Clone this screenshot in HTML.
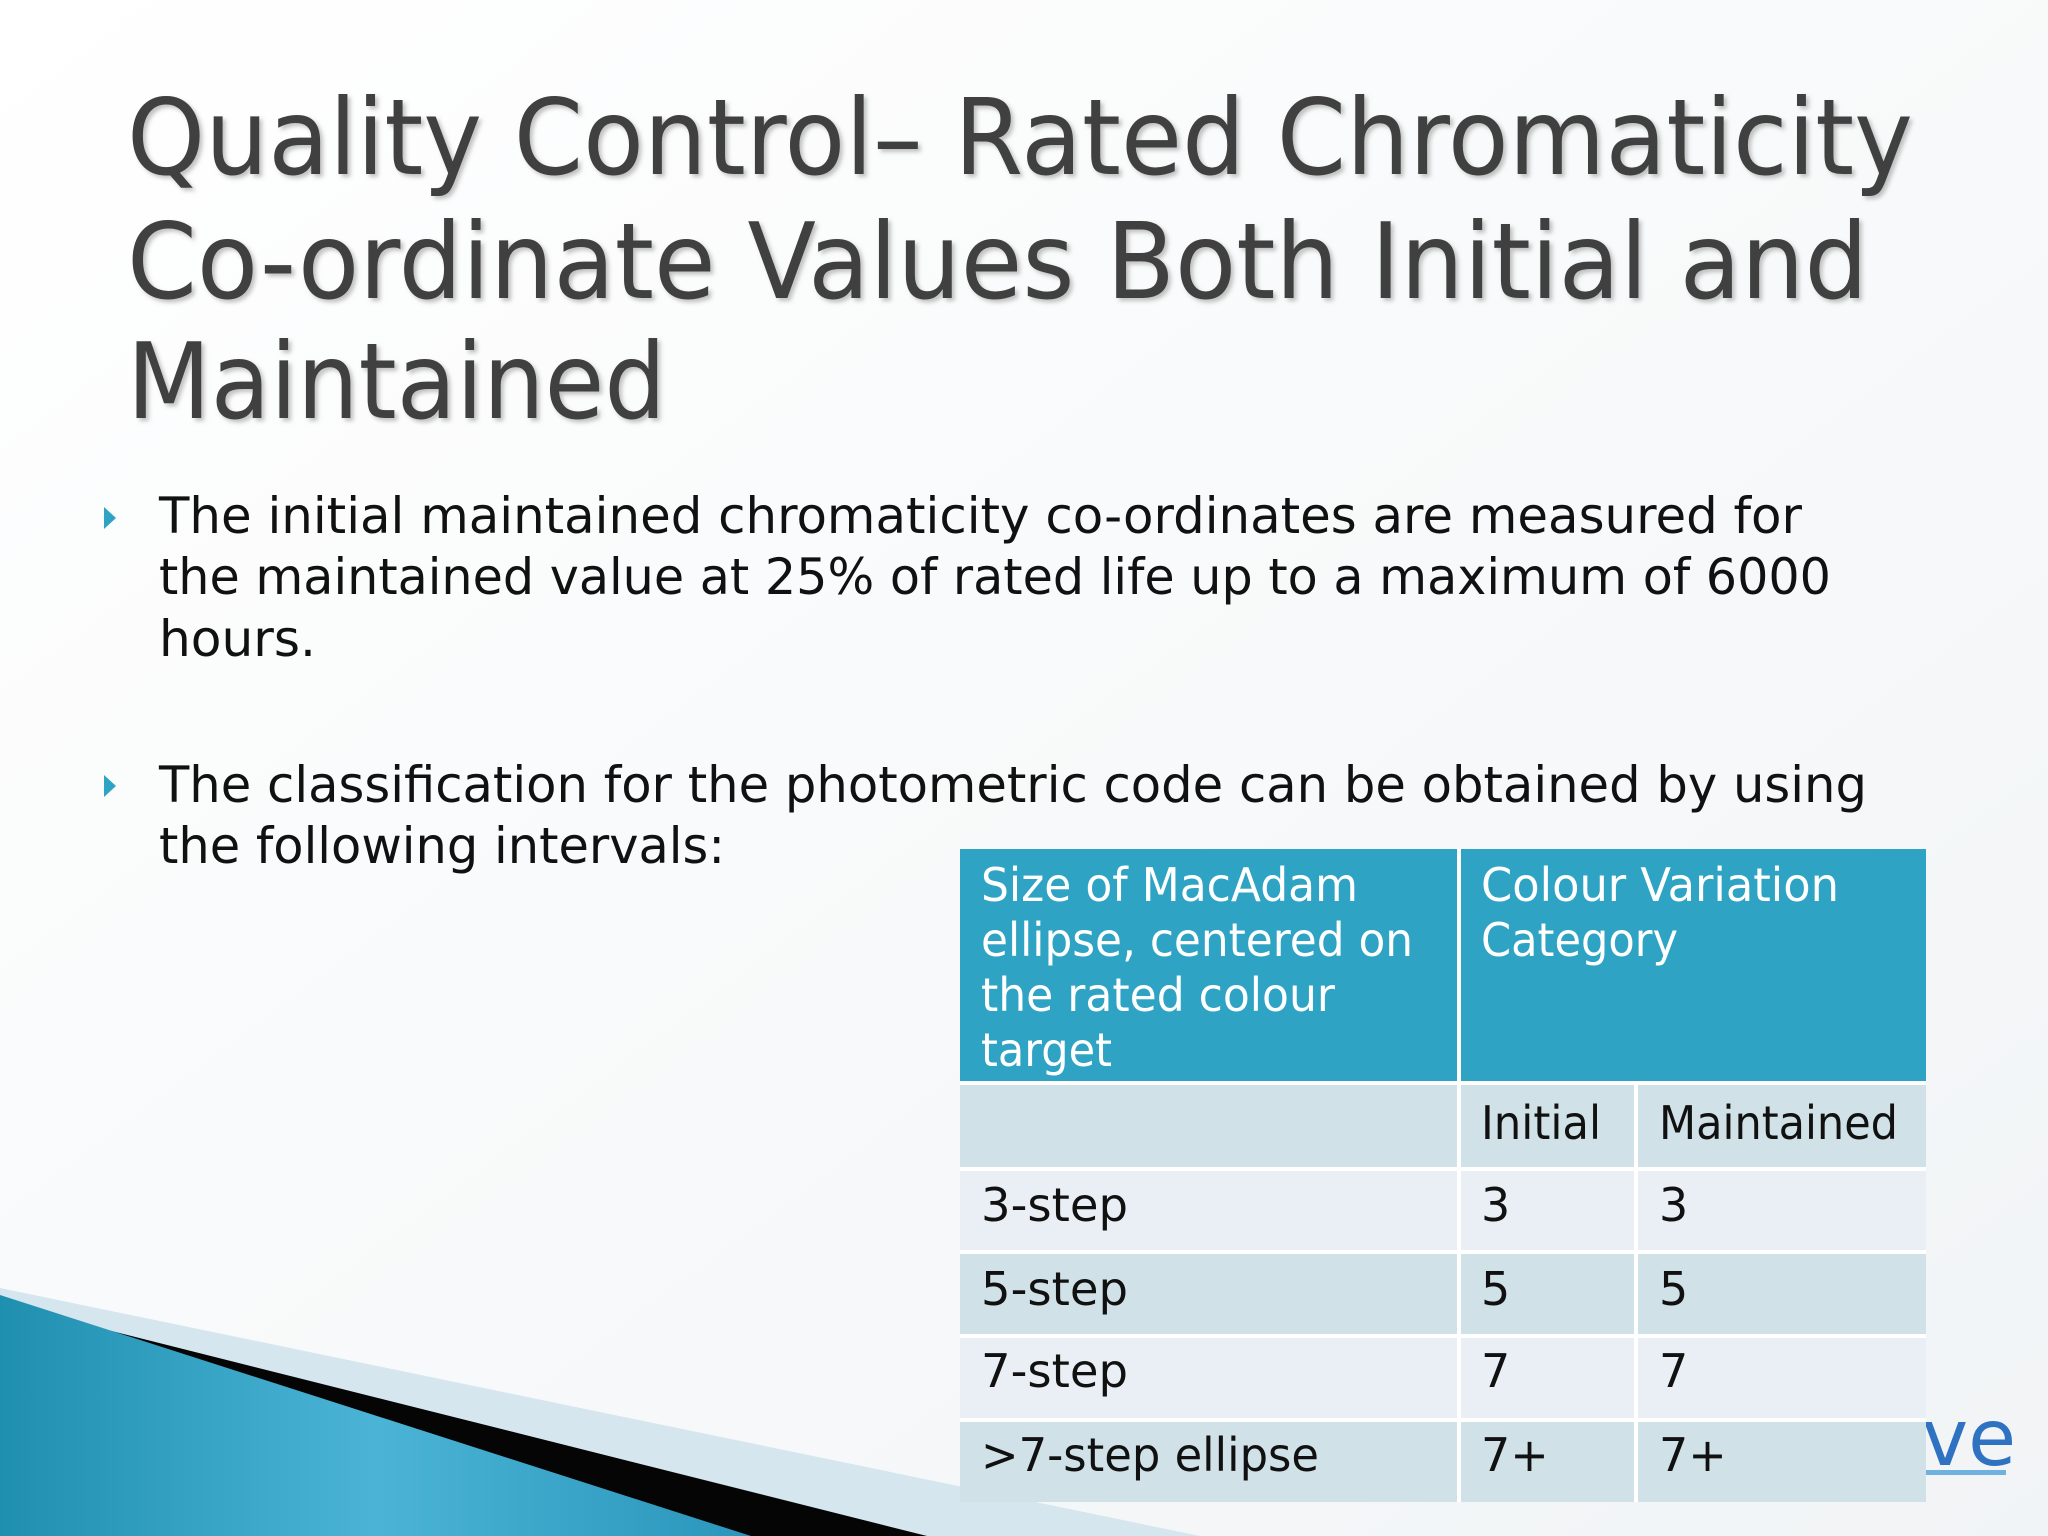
<!DOCTYPE html>
<html><head><meta charset="utf-8"><style>
html,body{margin:0;padding:0;width:2048px;height:1536px;overflow:hidden;background:#fff}
svg{display:block}
text{font-family:"DejaVu Sans","Liberation Sans",sans-serif}
</style></head><body>
<svg width="2048" height="1536" viewBox="0 0 2048 1536">
<defs>
<linearGradient id="bg" x1="0" y1="0" x2="1" y2="1"><stop offset="0" stop-color="#ffffff"/><stop offset="1" stop-color="#f1f4f6"/></linearGradient>
<linearGradient id="blue" x1="0" y1="0" x2="1" y2="0"><stop offset="0" stop-color="#1f8fb0"/><stop offset="0.5" stop-color="#4bb4d6"/><stop offset="1" stop-color="#2a96bb"/></linearGradient>
<filter id="sh"><feDropShadow dx="3" dy="3" stdDeviation="2" flood-color="#999" flood-opacity="0.6"/></filter>
</defs>
<rect width="2048" height="1536" fill="url(#bg)"/>
<g>
<polygon points="0,1288 1200,1536 0,1536" fill="#d5e6ee"/>
<polygon points="0,1303 927,1536 0,1536" fill="#050505"/>
<polygon points="0,1295 751,1536 0,1536" fill="url(#blue)"/>
</g>
<g fill="#3f3f3f" font-size="105" filter="url(#sh)">
<text x="127" y="174" textLength="1786" lengthAdjust="spacingAndGlyphs">Quality Control– Rated Chromaticity</text>
<text x="127" y="298" textLength="1741" lengthAdjust="spacingAndGlyphs">Co-ordinate Values Both Initial and</text>
<text x="127" y="418" textLength="539" lengthAdjust="spacingAndGlyphs">Maintained</text>
</g>
<g>
<polygon points="104,507 116,518 104,529" fill="#2ea3c3"/>
<polygon points="104,775 116,786 104,797" fill="#2ea3c3"/>
<g fill="#111" font-size="50">
<text x="159" y="533" textLength="1643" lengthAdjust="spacingAndGlyphs">The initial maintained chromaticity co-ordinates are measured for</text>
<text x="159" y="594" textLength="1672" lengthAdjust="spacingAndGlyphs">the maintained value at 25% of rated life up to a maximum of 6000</text>
<text x="159" y="656" textLength="157" lengthAdjust="spacingAndGlyphs">hours.</text>
<text x="159" y="802" textLength="1708" lengthAdjust="spacingAndGlyphs">The classification for the photometric code can be obtained by using</text>
<text x="159" y="863" textLength="566" lengthAdjust="spacingAndGlyphs">the following intervals:</text>
</g>
</g>
<g>
<text x="1922" y="1465" font-size="78" fill="#2f72c2" font-family="Liberation Sans,sans-serif">ve</text>
<rect x="1926" y="1470" width="80" height="5" fill="#6fb2e0"/>
</g>
<g>
<rect x="960" y="849" width="966" height="234" fill="#2ea3c3"/>
<rect x="960" y="1083" width="966" height="86" fill="#d0e1e8"/>
<rect x="960" y="1169" width="966" height="83" fill="#e9eff4"/>
<rect x="960" y="1252" width="966" height="84" fill="#d0e1e8"/>
<rect x="960" y="1336" width="966" height="84" fill="#e9eff4"/>
<rect x="960" y="1420" width="966" height="82" fill="#d0e1e8"/>
<g fill="#fff">
<rect x="1457" y="849" width="4" height="653"/>
<rect x="1634" y="1083" width="4" height="419"/>
<rect x="960" y="1081" width="966" height="4"/>
<rect x="960" y="1167" width="966" height="4"/>
<rect x="960" y="1250" width="966" height="4"/>
<rect x="960" y="1334" width="966" height="4"/>
<rect x="960" y="1418" width="966" height="4"/>
</g>
<g fill="#fff" font-size="46">
<text x="981" y="901" textLength="377" lengthAdjust="spacingAndGlyphs">Size of MacAdam</text>
<text x="981" y="956" textLength="432" lengthAdjust="spacingAndGlyphs">ellipse, centered on</text>
<text x="981" y="1011" textLength="354" lengthAdjust="spacingAndGlyphs">the rated colour</text>
<text x="981" y="1066" textLength="131" lengthAdjust="spacingAndGlyphs">target</text>
<text x="1481" y="901" textLength="358" lengthAdjust="spacingAndGlyphs">Colour Variation</text>
<text x="1481" y="956" textLength="197" lengthAdjust="spacingAndGlyphs">Category</text>
</g>
<g fill="#111" font-size="46">
<text x="1481" y="1139" textLength="120" lengthAdjust="spacingAndGlyphs">Initial</text>
<text x="1659" y="1139" textLength="239" lengthAdjust="spacingAndGlyphs">Maintained</text>
<text x="981" y="1221" textLength="147" lengthAdjust="spacingAndGlyphs">3-step</text>
<text x="1481" y="1221">3</text><text x="1659" y="1221">3</text>
<text x="981" y="1305" textLength="147" lengthAdjust="spacingAndGlyphs">5-step</text>
<text x="1481" y="1305">5</text><text x="1659" y="1305">5</text>
<text x="981" y="1387" textLength="147" lengthAdjust="spacingAndGlyphs">7-step</text>
<text x="1481" y="1387">7</text><text x="1659" y="1387">7</text>
<text x="981" y="1471" textLength="338" lengthAdjust="spacingAndGlyphs">&gt;7-step ellipse</text>
<text x="1481" y="1471">7+</text><text x="1659" y="1471">7+</text>
</g>
</g>
</svg>
</body></html>
